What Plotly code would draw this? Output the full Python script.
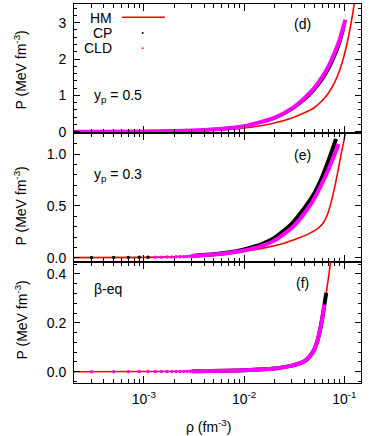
import plotly.graph_objects as go
from plotly.subplots import make_subplots

# ---- data (rho in fm^-3, P in MeV fm^-3) ----
# panel (d): y_p = 0.5
hm_rho_d = [0.0002, 0.001, 0.003, 0.006, 0.01, 0.02, 0.03, 0.04, 0.05, 0.06, 0.07, 0.08, 0.09, 0.1, 0.11, 0.12, 0.13]
hm_p_d = [0.0, 0.004, 0.02, 0.05, 0.1, 0.24, 0.38, 0.52, 0.66, 0.85, 1.08, 1.36, 1.7, 2.12, 2.62, 3.18, 3.8]
cp_rho_d = [0.0002, 0.001, 0.003, 0.006, 0.01, 0.02, 0.03, 0.04, 0.05, 0.06, 0.07, 0.08, 0.09, 0.1]
cp_p_d = [0.0, 0.006, 0.03, 0.08, 0.15, 0.37, 0.62, 0.88, 1.15, 1.43, 1.74, 2.08, 2.45, 2.92]
cld_rho_d = [0.0002, 0.001, 0.003, 0.006, 0.01, 0.02, 0.03, 0.04, 0.05, 0.06, 0.07, 0.08, 0.09, 0.1023]
cld_p_d = [0.0, 0.006, 0.03, 0.08, 0.15, 0.38, 0.64, 0.92, 1.2, 1.5, 1.82, 2.17, 2.55, 3.08]

# panel (e): y_p = 0.3
hm_rho_e = [0.0002, 0.001, 0.003, 0.007, 0.015, 0.025, 0.035, 0.045, 0.055, 0.062, 0.068, 0.074, 0.08, 0.086, 0.092, 0.098, 0.104]
hm_p_e = [0.0, 0.003, 0.015, 0.045, 0.09, 0.14, 0.19, 0.235, 0.285, 0.34, 0.42, 0.54, 0.68, 0.83, 0.98, 1.11, 1.24]
cp_dot_rho_e = [0.0003, 0.0005, 0.0007, 0.0009, 0.0011]
cp_dot_p_e = [0.001, 0.002, 0.002, 0.003, 0.003]
cp_rho_e = [0.003, 0.005, 0.007, 0.01, 0.015, 0.02, 0.03, 0.04, 0.05, 0.06, 0.07, 0.0826]
cp_p_e = [0.017, 0.033, 0.05, 0.08, 0.13, 0.19, 0.33, 0.48, 0.62, 0.78, 0.95, 1.15]
cld_dot_rho_e = [0.0013, 0.0015, 0.0017, 0.0019, 0.0021, 0.0023, 0.0025, 0.0027, 0.0029]
cld_dot_p_e = [0.004, 0.005, 0.006, 0.007, 0.008, 0.009, 0.01, 0.012, 0.013]
cld_rho_e = [0.003, 0.005, 0.007, 0.01, 0.015, 0.02, 0.03, 0.04, 0.05, 0.06, 0.07, 0.08, 0.0877]
cld_p_e = [0.015, 0.03, 0.045, 0.07, 0.115, 0.165, 0.29, 0.43, 0.57, 0.72, 0.86, 1.0, 1.1]

# panel (f): beta equilibrium
hm_rho_f = [0.0002, 0.001, 0.003, 0.01, 0.02, 0.03, 0.04, 0.045, 0.05, 0.055, 0.06, 0.065, 0.07, 0.075]
hm_p_f = [0.0, 0.0008, 0.002, 0.006, 0.013, 0.025, 0.043, 0.062, 0.09, 0.14, 0.215, 0.305, 0.395, 0.49]
cp_rho_f = [0.003, 0.01, 0.02, 0.03, 0.04, 0.045, 0.05, 0.055, 0.06, 0.066]
cp_p_f = [0.002, 0.006, 0.013, 0.025, 0.043, 0.062, 0.09, 0.14, 0.215, 0.323]
cld_dot_rho_f = [0.0003, 0.0005, 0.0007, 0.0009, 0.0011, 0.0013, 0.0015, 0.0017, 0.0019, 0.0021, 0.0023, 0.0025, 0.0027, 0.0029]
cld_dot_p_f = [0.0002, 0.0004, 0.0005, 0.0006, 0.0008, 0.0009, 0.001, 0.0011, 0.0012, 0.0013, 0.0014, 0.0015, 0.0016, 0.0018]
cld_rho_f = [0.003, 0.01, 0.02, 0.03, 0.04, 0.045, 0.05, 0.055, 0.06, 0.063]
cld_p_f = [0.002, 0.006, 0.013, 0.025, 0.043, 0.062, 0.09, 0.14, 0.215, 0.275]

x_tickvals = [1e-3, 1e-2, 1e-1]
x_ticktext = ["10<sup>-3</sup>", "10<sup>-2</sup>", "10<sup>-1</sup>"]
panel_tags = ["(d)", "(e)", "(f)"]
panel_notes = ["y<sub>p</sub> = 0.5", "y<sub>p</sub> = 0.3", "β-eq"]

RED, BLACK, MAGENTA = "#ff0000", "#000000", "#ff00ff"
FONT = "Liberation Sans, Arial, Helvetica, sans-serif"

W, H = 374, 436
L, R, T, B = 74, 13, 4, 53


def fx(px):
    return (px - L) / (W - L - R)


def fy(py):
    return (H - B - py) / (H - T - B)


fig = make_subplots(rows=3, cols=1, shared_xaxes=True, vertical_spacing=0)


def add_line(row, x, y, color, width):
    fig.add_trace(go.Scatter(x=x, y=y, mode="lines", showlegend=False,
                             line=dict(color=color, width=width, shape="spline", smoothing=0.6)),
                  row=row, col=1)


def add_dots(row, x, y, color, size):
    fig.add_trace(go.Scatter(x=x, y=y, mode="markers", showlegend=False,
                             marker=dict(color=color, size=size)),
                  row=row, col=1)


# (d)
add_line(1, hm_rho_d, hm_p_d, RED, 1.6)
add_line(1, cp_rho_d, cp_p_d, BLACK, 3)
add_line(1, cld_rho_d, cld_p_d, MAGENTA, 4)
# (e)
add_line(2, hm_rho_e, hm_p_e, RED, 1.6)
add_dots(2, cp_dot_rho_e, cp_dot_p_e, BLACK, 3.5)
add_line(2, cp_rho_e, cp_p_e, BLACK, 4)
add_dots(2, cld_dot_rho_e, cld_dot_p_e, MAGENTA, 3.5)
add_line(2, cld_rho_e, cld_p_e, MAGENTA, 4)
# (f)
add_line(3, hm_rho_f, hm_p_f, RED, 1.6)
add_line(3, cp_rho_f, cp_p_f, BLACK, 4)
add_dots(3, cld_dot_rho_f, cld_dot_p_f, MAGENTA, 3.5)
add_line(3, cld_rho_f, cld_p_f, MAGENTA, 4)

# panel geometry (pixels from top)
edges = [4, 133.3, 261.5, 383]
y_ranges = [[-0.044, 3.515], [-0.037, 1.203], [-0.046, 0.451]]
y_dticks = [1, 0.5, 0.2]
y_minor = [0.2, 0.1, 0.04]
y_fmt = ["d", ".1f", ".1f"]

minor_x = [k * 10.0 ** e for e in (-4, -3, -2, -1) for k in range(2, 10)]

for i in range(3):
    fig.update_yaxes(
        row=i + 1, col=1,
        domain=[fy(edges[i + 1]), fy(edges[i])],
        range=y_ranges[i], dtick=y_dticks[i], tick0=0,
        tickformat=y_fmt[i],
        showgrid=False, zeroline=False,
        showline=True, linecolor="black", linewidth=1, mirror="ticks",
        ticks="inside", ticklen=6, tickcolor="black",
        minor=dict(dtick=y_minor[i], tick0=0, ticks="inside", ticklen=3, tickcolor="black"),
        tickfont=dict(size=14, color="black"),
        ticklabelstandoff=4,
    )
    fig.update_xaxes(
        row=i + 1, col=1,
        type="log", range=[-3.697, -0.834],
        tickmode="array", tickvals=x_tickvals, ticktext=x_ticktext,
        showgrid=False, zeroline=False,
        showline=True, linecolor="black", linewidth=1, mirror="ticks",
        ticks="inside", ticklen=7, tickcolor="black",
        minor=dict(tickmode="array", tickvals=minor_x, ticks="inside", ticklen=4, tickcolor="black"),
        tickfont=dict(size=14, color="black"),
        ticklabelstandoff=3,
    )

ann = []
# y-axis titles
for yc in (70.5, 206.5, 320.5):
    ann.append(dict(text="P (MeV fm<sup>-3</sup>)", x=fx(21), y=fy(yc), textangle=-90,
                    xanchor="center", yanchor="middle", font=dict(size=14)))
# x-axis title
ann.append(dict(text="ρ (fm<sup>-3</sup>)", x=fx(208), y=fy(426), xanchor="center", yanchor="middle",
                font=dict(size=14)))
# panel tags and notes
for tag, yc in zip(panel_tags, (24, 155, 283)):
    ann.append(dict(text=tag, x=fx(302), y=fy(yc), xanchor="center", yanchor="middle", font=dict(size=14)))
for note, yc in zip(panel_notes, (96, 175, 289)):
    ann.append(dict(text=note, x=fx(92), y=fy(yc), xanchor="left", yanchor="middle", font=dict(size=14)))
# key
for name, yc in zip(["HM", "CP", "CLD"], (17.5, 32.5, 48)):
    ann.append(dict(text=name, x=fx(114), y=fy(yc), xanchor="right", yanchor="middle",
                    font=dict(size=14), height=15))
for a in ann:
    a.update(xref="paper", yref="paper", showarrow=False)

shapes = [
    dict(type="line", xref="paper", yref="paper", x0=fx(122), x1=fx(165), y0=fy(17.3), y1=fy(17.3),
         line=dict(color=RED, width=1.6)),
    dict(type="circle", xref="paper", yref="paper", x0=fx(141.7), x1=fx(143.7), y0=fy(34), y1=fy(32),
         fillcolor=BLACK, line=dict(width=0)),
    dict(type="circle", xref="paper", yref="paper", x0=fx(141.7), x1=fx(143.7), y0=fy(49.3), y1=fy(47.3),
         fillcolor=MAGENTA, line=dict(width=0)),
]

fig.update_layout(
    width=W, height=H,
    margin=dict(l=L, r=R, t=T, b=B),
    plot_bgcolor="white", paper_bgcolor="white",
    font=dict(family=FONT, size=14, color="black"),
    showlegend=False,
    annotations=ann,
    shapes=shapes,
)

# drop the default body margin so the figure sits at the window's top-left corner
fig.write_html("out.html", config={"displayModeBar": False},
               post_script="document.body.style.margin='0';")
